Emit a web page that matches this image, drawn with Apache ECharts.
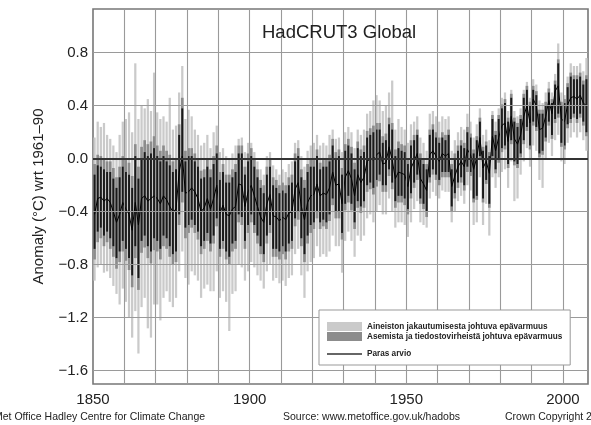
<!DOCTYPE html>
<html>
<head>
<meta charset="utf-8">
<script src="https://cdn.jsdelivr.net/npm/echarts@6/dist/echarts.min.js"></script>
<style>html,body{margin:0;padding:0;background:#fff;}#c{width:591px;height:425px;}</style>
</head>
<body>
<div id="c"></div>
<script>
// Years 1850..2007 (each value covers one calendar year)
const firstYear = 1850, lastYear = 2007;
const years = [];
for (let y = firstYear; y <= lastYear; y++) years.push(y);

// Best estimate (annual level)
const best = [
-0.42,-0.30,-0.29,-0.32,-0.30,-0.33,-0.40,-0.48,-0.42,-0.33,
-0.38,-0.42,-0.54,-0.33,-0.50,-0.30,-0.28,-0.32,-0.30,-0.28,
-0.30,-0.34,-0.28,-0.31,-0.36,-0.40,-0.38,-0.10,0.02,-0.26,
-0.25,-0.22,-0.25,-0.30,-0.40,-0.37,-0.30,-0.38,-0.30,-0.20,
-0.41,-0.35,-0.42,-0.43,-0.38,-0.36,-0.19,-0.20,-0.36,-0.25,
-0.20,-0.28,-0.36,-0.44,-0.48,-0.34,-0.27,-0.43,-0.44,-0.47,
-0.44,-0.46,-0.41,-0.40,-0.23,-0.18,-0.36,-0.46,-0.33,-0.28,
-0.27,-0.19,-0.28,-0.26,-0.27,-0.22,-0.10,-0.20,-0.19,-0.34,
-0.14,-0.09,-0.15,-0.28,-0.12,-0.18,-0.14,-0.02,0.00,-0.01,
0.03,0.05,-0.04,-0.03,0.09,-0.01,-0.15,-0.10,-0.11,-0.12,
-0.21,-0.07,-0.02,0.04,-0.15,-0.19,-0.24,0.03,0.06,0.02,
-0.02,0.04,0.02,0.04,-0.21,-0.13,-0.06,-0.02,-0.06,0.07,
0.03,-0.08,0.01,0.16,-0.07,-0.02,-0.11,0.17,0.06,0.16,
0.25,0.27,0.13,0.32,0.15,0.11,0.18,0.32,0.40,0.27,
0.45,0.40,0.22,0.23,0.32,0.44,0.34,0.51,0.55,0.30,
0.28,0.41,0.46,0.47,0.45,0.48,0.42,0.40];

// Monthly range of the best estimate within each year
const blackLo = [
-0.68,-0.55,-0.52,-0.58,-0.55,-0.60,-0.66,-0.75,-0.70,-0.62,
-0.68,-0.75,-0.88,-0.66,-0.90,-0.62,-0.58,-0.66,-0.70,-0.60,
-0.62,-0.68,-0.58,-0.60,-0.66,-0.72,-0.70,-0.42,-0.25,-0.52,
-0.50,-0.46,-0.50,-0.55,-0.66,-0.62,-0.56,-0.64,-0.58,-0.45,
-0.68,-0.62,-0.70,-0.74,-0.64,-0.62,-0.42,-0.44,-0.62,-0.50,
-0.42,-0.50,-0.58,-0.66,-0.72,-0.58,-0.50,-0.68,-0.68,-0.70,
-0.66,-0.70,-0.64,-0.62,-0.45,-0.40,-0.60,-0.72,-0.58,-0.50,
-0.48,-0.40,-0.48,-0.46,-0.48,-0.42,-0.30,-0.40,-0.40,-0.56,
-0.34,-0.28,-0.34,-0.48,-0.32,-0.36,-0.32,-0.20,-0.18,-0.22,
-0.16,-0.12,-0.20,-0.20,-0.08,-0.18,-0.32,-0.28,-0.28,-0.30,
-0.38,-0.26,-0.18,-0.12,-0.30,-0.34,-0.40,-0.14,-0.08,-0.12,
-0.16,-0.10,-0.10,-0.10,-0.36,-0.26,-0.18,-0.14,-0.20,-0.06,
-0.10,-0.30,-0.28,0.02,-0.30,-0.16,-0.34,0.02,-0.08,0.00,
0.08,0.10,-0.04,0.14,-0.02,-0.04,0.04,0.14,0.24,0.10,
0.28,0.24,0.04,0.06,0.16,0.28,0.18,0.30,0.34,0.12,
0.10,0.26,0.30,0.34,0.30,0.34,0.28,0.20];
const blackHi = [
-0.12,-0.05,-0.06,-0.08,-0.10,-0.10,-0.15,-0.22,-0.14,-0.06,
-0.10,-0.12,-0.22,0.02,-0.15,0.00,0.05,0.02,0.04,0.08,
0.02,-0.02,0.02,-0.02,-0.05,-0.10,-0.08,0.18,0.38,-0.02,
0.02,0.02,-0.02,-0.06,-0.15,-0.14,-0.06,-0.14,-0.04,0.04,
-0.16,-0.10,-0.18,-0.18,-0.14,-0.10,0.04,0.04,-0.12,-0.02,
0.02,-0.06,-0.14,-0.22,-0.26,-0.12,-0.06,-0.20,-0.22,-0.26,
-0.24,-0.26,-0.20,-0.18,-0.02,0.02,-0.14,-0.22,-0.10,-0.06,
-0.06,0.02,-0.08,-0.06,-0.06,-0.02,0.10,0.00,0.02,-0.12,
0.06,0.10,0.04,-0.08,0.08,0.02,0.05,0.16,0.18,0.20,
0.22,0.22,0.12,0.14,0.26,0.22,0.02,0.08,0.06,0.05,
-0.04,0.10,0.14,0.18,0.00,-0.04,-0.08,0.18,0.22,0.16,
0.12,0.16,0.14,0.18,-0.08,0.00,0.06,0.10,0.08,0.20,
0.16,0.04,0.14,0.28,0.06,0.10,0.02,0.30,0.18,0.30,
0.38,0.42,0.28,0.46,0.28,0.24,0.30,0.46,0.52,0.40,
0.52,0.48,0.34,0.34,0.40,0.50,0.42,0.56,0.72,0.40,
0.42,0.54,0.62,0.60,0.60,0.62,0.56,0.60];

// Station and sampling error band (dark grey)
const darkLo = [
-0.76,-0.63,-0.60,-0.66,-0.63,-0.68,-0.74,-0.83,-0.78,-0.70,
-0.77,-0.84,-0.97,-0.75,-0.99,-0.71,-0.67,-0.75,-0.79,-0.69,
-0.70,-0.76,-0.66,-0.68,-0.74,-0.80,-0.78,-0.50,-0.33,-0.60,
-0.56,-0.52,-0.56,-0.61,-0.72,-0.68,-0.62,-0.70,-0.64,-0.51,
-0.74,-0.68,-0.76,-0.80,-0.70,-0.68,-0.48,-0.50,-0.68,-0.56,
-0.48,-0.56,-0.64,-0.72,-0.78,-0.64,-0.56,-0.74,-0.74,-0.76,
-0.72,-0.76,-0.70,-0.68,-0.51,-0.46,-0.66,-0.78,-0.64,-0.56,
-0.53,-0.45,-0.53,-0.51,-0.53,-0.47,-0.35,-0.45,-0.45,-0.61,
-0.39,-0.33,-0.39,-0.53,-0.37,-0.41,-0.37,-0.25,-0.23,-0.27,
-0.21,-0.17,-0.25,-0.25,-0.13,-0.23,-0.37,-0.33,-0.33,-0.35,
-0.42,-0.30,-0.22,-0.16,-0.34,-0.38,-0.44,-0.18,-0.12,-0.16,
-0.20,-0.14,-0.14,-0.14,-0.40,-0.30,-0.22,-0.18,-0.24,-0.10,
-0.13,-0.33,-0.31,-0.01,-0.33,-0.19,-0.37,-0.01,-0.11,-0.03,
0.05,0.07,-0.07,0.11,-0.05,-0.07,0.01,0.11,0.21,0.07,
0.25,0.21,0.01,0.03,0.13,0.25,0.15,0.27,0.31,0.09,
0.07,0.23,0.27,0.31,0.27,0.31,0.25,0.17];
const darkHi = [
-0.04,0.03,0.02,0.00,-0.02,-0.02,-0.07,-0.14,-0.06,0.02,
-0.01,-0.03,-0.13,0.11,-0.06,0.09,0.14,0.11,0.13,0.17,
0.10,0.06,0.10,0.06,0.03,-0.02,0.00,0.26,0.46,0.06,
0.08,0.08,0.04,0.00,-0.09,-0.08,0.00,-0.08,0.02,0.10,
-0.10,-0.04,-0.12,-0.12,-0.08,-0.04,0.10,0.10,-0.06,0.04,
0.08,0.00,-0.08,-0.16,-0.20,-0.06,0.00,-0.14,-0.16,-0.20,
-0.18,-0.20,-0.14,-0.12,0.04,0.08,-0.08,-0.16,-0.04,0.00,
-0.01,0.07,-0.03,-0.01,-0.01,0.03,0.15,0.05,0.07,-0.07,
0.11,0.15,0.09,-0.03,0.13,0.07,0.10,0.21,0.23,0.25,
0.27,0.27,0.17,0.19,0.31,0.27,0.07,0.13,0.11,0.10,
0.00,0.14,0.18,0.22,0.04,0.00,-0.04,0.22,0.26,0.20,
0.16,0.20,0.18,0.22,-0.04,0.04,0.10,0.14,0.12,0.24,
0.19,0.07,0.17,0.31,0.09,0.13,0.05,0.33,0.21,0.33,
0.41,0.45,0.31,0.49,0.31,0.27,0.33,0.49,0.55,0.43,
0.55,0.51,0.37,0.37,0.43,0.53,0.45,0.59,0.75,0.43,
0.45,0.57,0.65,0.63,0.63,0.65,0.59,0.63];

// Coverage uncertainty band (light grey, outer envelope)
const lightLo = [
-0.92,-0.82,-0.80,-0.86,-0.85,-0.90,-0.96,-1.02,-1.10,-0.98,
-1.08,-1.20,-1.35,-1.15,-1.47,-1.12,-1.05,-1.28,-1.35,-1.10,
-1.10,-1.22,-1.05,-1.00,-1.08,-1.12,-1.05,-0.85,-0.70,-0.90,
-0.95,-0.85,-0.88,-0.92,-1.05,-0.98,-0.95,-1.00,-1.00,-0.85,
-1.05,-1.00,-1.08,-1.30,-1.02,-1.00,-0.80,-0.82,-0.92,-0.85,
-0.78,-0.82,-0.88,-0.92,-0.98,-0.85,-0.80,-0.92,-0.90,-0.94,
-0.92,-0.96,-0.90,-0.88,-0.72,-0.68,-0.88,-1.05,-0.85,-0.78,
-0.75,-0.66,-0.74,-0.72,-0.74,-0.70,-0.58,-0.66,-0.66,-0.86,
-0.62,-0.55,-0.62,-0.74,-0.58,-0.62,-0.58,-0.45,-0.42,-0.48,
-0.40,-0.35,-0.42,-0.42,-0.30,-0.40,-0.52,-0.48,-0.48,-0.50,
-0.59,-0.48,-0.38,-0.32,-0.48,-0.50,-0.52,-0.30,-0.25,-0.28,
-0.30,-0.24,-0.25,-0.25,-0.48,-0.40,-0.32,-0.28,-0.34,-0.20,
-0.24,-0.50,-0.48,-0.14,-0.50,-0.34,-0.58,-0.14,-0.22,-0.14,
-0.10,-0.08,-0.22,-0.02,-0.32,-0.30,-0.12,-0.02,0.08,-0.06,
0.10,0.06,-0.16,-0.22,0.00,0.12,0.02,0.14,0.18,-0.02,
-0.04,0.12,0.16,0.20,0.16,0.20,0.14,0.06];
const lightHi = [
0.16,0.28,0.24,0.27,0.18,0.15,0.10,0.05,0.18,0.28,
0.30,0.35,0.20,0.72,0.30,0.40,0.38,0.45,0.36,0.65,
0.35,0.30,0.32,0.28,0.46,0.22,0.25,0.50,0.70,0.30,
0.37,0.32,0.22,0.18,0.10,0.12,0.18,0.08,0.20,0.25,
0.05,0.08,0.02,0.00,0.04,0.10,0.15,0.16,0.05,0.12,
0.12,0.05,-0.02,-0.08,-0.12,0.02,0.05,-0.05,-0.08,-0.12,
-0.08,-0.10,-0.04,-0.02,0.12,0.14,0.02,-0.06,0.06,0.10,
0.12,0.18,0.10,0.12,0.10,0.18,0.22,0.15,0.16,0.05,
0.20,0.24,0.20,0.08,0.22,0.18,0.22,0.34,0.36,0.44,
0.48,0.44,0.36,0.40,0.50,0.59,0.22,0.30,0.24,0.22,
0.12,0.26,0.28,0.32,0.16,0.12,0.06,0.34,0.36,0.32,
0.28,0.32,0.30,0.32,0.06,0.14,0.20,0.24,0.22,0.34,
0.28,0.16,0.26,0.38,0.18,0.22,0.14,0.36,0.28,0.38,
0.46,0.50,0.36,0.52,0.36,0.32,0.38,0.52,0.58,0.46,
0.60,0.56,0.44,0.42,0.50,0.58,0.50,0.64,0.87,0.50,
0.48,0.62,0.72,0.70,0.70,0.72,0.66,0.76];

// Axis ticks
const yTicks = [-1.6, -1.2, -0.8, -0.4, 0.0, 0.4, 0.8];
const xLabelYears = [1850, 1900, 1950, 2000];
const xGridYears = [1860, 1870, 1880, 1890, 1900, 1910, 1920, 1930, 1940, 1950, 1960, 1970, 1980, 1990, 2000];

const nameLight = 'Aineiston jakautumisesta johtuva epävarmuus';
const nameDark = 'Asemista ja tiedostovirheistä johtuva epävarmuus';
const nameBest = 'Paras arvio';

function rangeData(lo, hi) {
  return years.map((y, i) => [y, lo[i], hi[i]]);
}
// frac: share of the year's width that the bar fills (centred)
function makeRange(frac) {
  return function (params, api) {
    const x0 = api.value(0), lo = api.value(1), hi = api.value(2);
    const a = api.coord([x0, hi]);
    const b = api.coord([x0 + 1, lo]);
    const full = b[0] - a[0];
    const w = full * frac;
    const cs = params.coordSys;
    const shape = echarts.graphic.clipRectByRect(
      { x: a[0] + (full - w) / 2, y: a[1], width: w, height: b[1] - a[1] },
      { x: cs.x, y: cs.y, width: cs.width, height: cs.height });
    if (!shape) return null;
    return { type: 'rect', shape: shape, style: { fill: api.visual('color') } };
  };
}

const fontFam = '"Liberation Sans", Arial, Helvetica, sans-serif';
const chart = echarts.init(document.getElementById('c'), null, { renderer: 'canvas' });

const gridLines = [];
xGridYears.forEach(v => gridLines.push({ xAxis: v }));
yTicks.forEach(v => { if (v !== 0) gridLines.push({ yAxis: v }); });
gridLines.push({ yAxis: 0, lineStyle: { color: '#333', width: 2.2, type: 'solid' } });

chart.setOption({
  animation: false,
  backgroundColor: '#fff',
  title: {
    text: 'HadCRUT3 Global',
    left: 262, top: 23, padding: 0,
    textStyle: { fontFamily: fontFam, fontSize: 18.5, fontWeight: 'normal', color: '#222' }
  },
  grid: { left: 93, right: 3, top: 9, bottom: 41, show: true, borderColor: '#777', borderWidth: 1.6, backgroundColor: 'transparent' },
  xAxis: {
    type: 'value', min: 1850, max: 2008,
    axisLine: { show: false }, axisTick: { show: false }, splitLine: { show: false },
    axisLabel: { customValues: xLabelYears, fontFamily: fontFam, fontSize: 15, color: '#222', margin: 8,
      formatter: v => String(Math.round(v)) }
  },
  yAxis: {
    type: 'value', min: -1.7, max: 1.13,
    axisLine: { show: false }, axisTick: { show: false }, splitLine: { show: false },
    axisLabel: {
      customValues: yTicks, fontFamily: fontFam, fontSize: 15, color: '#222', margin: 5,
      formatter: v => v.toFixed(1).replace('-', '\u2212')
    },
    name: 'Anomaly (\u00B0C) wrt 1961\u201390', nameLocation: 'middle', nameGap: 47, nameRotate: 90,
    nameTextStyle: { fontFamily: fontFam, fontSize: 15, color: '#222' }
  },
  legend: [{
    data: [
      { name: nameLight, icon: 'rect' },
      { name: nameDark, icon: 'rect' }
    ],
    orient: 'vertical', left: 319, top: 310,
    padding: [12, 8, 24, 8],
    itemWidth: 35, itemHeight: 9, itemGap: 1,
    backgroundColor: '#fff', borderColor: '#999', borderWidth: 1,
    textStyle: { fontFamily: fontFam, fontSize: 8.2, fontWeight: 'bold', color: '#222' },
    selectedMode: false, z: 20
  }, {
    data: [{ name: nameBest, icon: 'rect', itemStyle: { color: '#333' } }],
    orient: 'vertical', left: 327, top: 350, padding: 0,
    itemWidth: 35, itemHeight: 1.5,
    textStyle: { fontFamily: fontFam, fontSize: 8.2, fontWeight: 'bold', color: '#222' },
    selectedMode: false, z: 21
  }],
  graphic: [
    { type: 'text', left: -6, top: 412, z: 30, style: { text: 'Met Office Hadley Centre for Climate Change', font: '10.5px ' + fontFam, fill: '#222' } },
    { type: 'text', left: 283, top: 412, z: 30, style: { text: 'Source: www.metoffice.gov.uk/hadobs', font: '10.5px ' + fontFam, fill: '#222' } },
    { type: 'text', left: 505, top: 412, z: 30, style: { text: 'Crown Copyright 2008', font: '10.5px ' + fontFam, fill: '#222' } }
  ],
  series: [
    { name: nameLight, type: 'custom', renderItem: makeRange(0.72), data: rangeData(lightLo, lightHi),
      encode: { x: 0, y: [1, 2] }, itemStyle: { color: '#cacaca' }, z: 1, silent: true },
    { name: nameDark, type: 'custom', renderItem: makeRange(0.85), data: rangeData(darkLo, darkHi),
      encode: { x: 0, y: [1, 2] }, itemStyle: { color: '#8c8c8c' }, z: 2, silent: true },
    { name: nameBest, type: 'custom', renderItem: makeRange(0.62), data: rangeData(blackLo, blackHi),
      encode: { x: 0, y: [1, 2] }, itemStyle: { color: '#1a1a1a' }, z: 3, silent: true },
    { name: nameBest, type: 'line', data: years.map((y, i) => [y + 0.5, best[i]]),
      showSymbol: false, lineStyle: { color: '#000', width: 1 }, itemStyle: { color: '#333' }, z: 4, silent: true },
    { name: 'grid', type: 'line', data: [], z: 10, silent: true,
      markLine: { silent: true, symbol: 'none', label: { show: false },
        lineStyle: { color: '#9a9a9a', width: 1.1, type: 'solid' }, data: gridLines } }
  ]
});
</script>
</body>
</html>
